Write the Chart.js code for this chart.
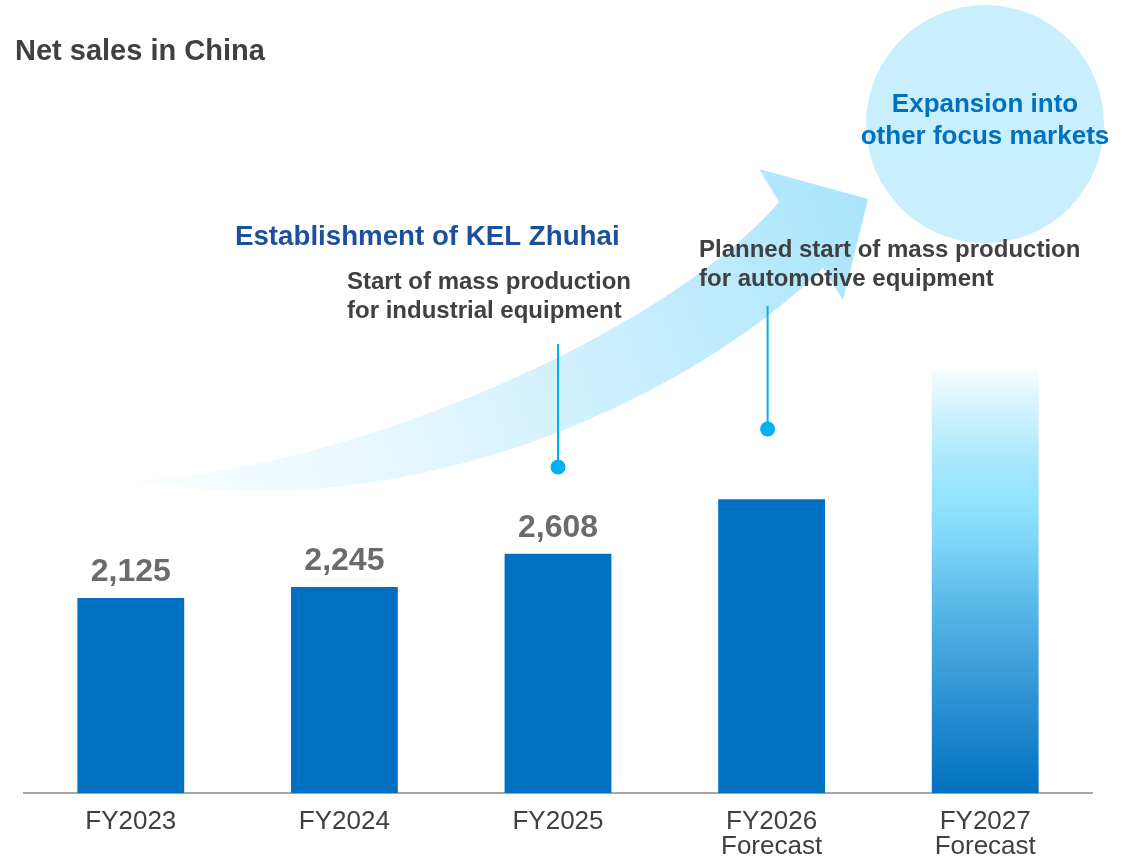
<!DOCTYPE html>
<html>
<head>
<meta charset="utf-8">
<script src="https://cdn.jsdelivr.net/npm/chart.js@4/dist/chart.umd.min.js"></script>
<style>
  body { margin: 0; background: #fff; }
</style>
</head>
<body>
<canvas id="c" width="1128" height="856"></canvas>
<script>
// net sales, China (JPY million)
var years = [['FY2023'], ['FY2024'], ['FY2025'], ['FY2026', 'Forecast'], ['FY2027', 'Forecast']];
var sales = [2125, 2245, 2608, 3200, 4660];
var showValue = [true, true, true, false, false];
var yMax = 8640;

var FONT = '"Liberation Sans", Arial, Helvetica, sans-serif';
var BLUE = '#0070c0';

// last bar fades out towards the top
function barColor(ctx) {
  if (ctx.dataIndex < 4) return BLUE;
  var chart = ctx.chart;
  if (!chart.chartArea) return BLUE;
  var bottom = chart.chartArea.bottom;
  var top = chart.scales.y.getPixelForValue(sales[ctx.dataIndex]);
  var g = chart.ctx.createLinearGradient(0, bottom, 0, top);
  g.addColorStop(0, '#0070c0');
  g.addColorStop(0.28, '#3a9cd8');
  g.addColorStop(0.44, '#5ab8e8');
  g.addColorStop(0.59, '#7fd6fa');
  g.addColorStop(0.67, '#8ee2ff');
  g.addColorStop(0.78, '#aae8fd');
  g.addColorStop(0.9, '#d2f3fe');
  g.addColorStop(0.98, '#f4fcff');
  g.addColorStop(1, '#ffffff');
  return g;
}

// big growth arrow + target circle behind the bars
var backdrop = {
  id: 'backdrop',
  beforeDatasetsDraw: function (chart) {
    var g = chart.ctx;
    g.save();
    g.fillStyle = '#c9effd';
    g.beginPath();
    g.arc(985, 124, 119, 0, Math.PI * 2);
    g.fill();

    var grad = g.createLinearGradient(132, 480, 868, 199);
    grad.addColorStop(0, '#fbfeff');
    grad.addColorStop(0.4, '#e0f5fe');
    grad.addColorStop(1, '#a8e5fc');
    g.fillStyle = grad;
    g.beginPath();
    g.moveTo(132, 480);
    g.bezierCurveTo(330, 475, 660, 340, 779, 202);
    g.lineTo(759, 169);
    g.lineTo(868, 199);
    g.lineTo(843, 300);
    g.lineTo(823, 268);
    g.bezierCurveTo(700, 390, 420, 532, 132, 480);
    g.closePath();
    g.fill();
    g.restore();
  },
  afterDatasetsDraw: function (chart) {
    var g = chart.ctx;
    var x = chart.scales.x;
    var meta = chart.getDatasetMeta(0);
    g.save();

    // callout pins
    var pins = [[x.getPixelForValue(2), 467, 344], [x.getPixelForValue(3) - 4, 429, 306]];
    g.strokeStyle = '#00b0f0';
    g.fillStyle = '#00b0f0';
    g.lineWidth = 2;
    for (var i = 0; i < pins.length; i++) {
      g.beginPath();
      g.moveTo(pins[i][0], pins[i][1]);
      g.lineTo(pins[i][0], pins[i][2]);
      g.stroke();
      g.beginPath();
      g.arc(pins[i][0], pins[i][1], 7.5, 0, Math.PI * 2);
      g.fill();
    }

    // value labels over the bars
    g.font = 'bold 32px ' + FONT;
    g.fillStyle = '#6b6b6b';
    g.textAlign = 'center';
    g.textBaseline = 'alphabetic';
    for (var j = 0; j < sales.length; j++) {
      if (!showValue[j]) continue;
      var bar = meta.data[j];
      g.fillText(sales[j].toLocaleString('en-US'), bar.x, bar.y - 17);
    }

    // text blocks
    g.textAlign = 'left';
    g.fillStyle = '#404040';
    g.font = 'bold 29px ' + FONT;
    g.fillText('Net sales in China', 15, 60);

    g.fillStyle = '#1d4f9f';
    g.font = 'bold 27.7px ' + FONT;
    g.fillText('Establishment of KEL Zhuhai', 235, 245);

    g.fillStyle = '#404040';
    g.font = 'bold 24px ' + FONT;
    g.fillText('Start of mass production', 347, 289);
    g.fillText('for industrial equipment', 347, 318);
    g.fillText('Planned start of mass production', 699, 257);
    g.fillText('for automotive equipment', 699, 286);

    g.textAlign = 'center';
    g.fillStyle = BLUE;
    g.font = 'bold 26px ' + FONT;
    g.fillText('Expansion into', 985, 112);
    g.fillText('other focus markets', 985, 144);
    g.restore();
  }
};

var ctx = document.getElementById('c').getContext('2d');
var chart = new Chart(ctx, {
  type: 'bar',
  data: {
    labels: years,
    datasets: [{
      data: sales,
      backgroundColor: barColor,
      borderWidth: 0,
      barPercentage: 0.5,
      categoryPercentage: 1
    }]
  },
  options: {
    responsive: false,
    animation: false,
    devicePixelRatio: 1,
    layout: { padding: { left: 24, right: 36, top: 0, bottom: 0 } },
    plugins: { legend: { display: false }, tooltip: { enabled: false } },
    scales: {
      x: {
        grid: { display: false, drawTicks: false },
        border: { display: true, color: '#a6a6a6', width: 2 },
        ticks: {
          color: '#404040',
          padding: 16,
          font: { family: FONT, size: 26, lineHeight: 0.98 }
        },
        afterFit: function (s) { s.height = 63; }
      },
      y: { display: false, min: 0, max: yMax }
    }
  },
  plugins: [backdrop]
});
</script>
</body>
</html>
